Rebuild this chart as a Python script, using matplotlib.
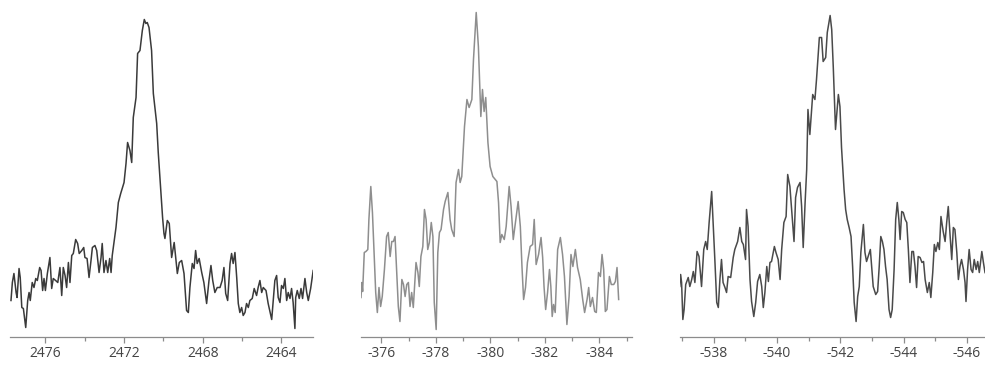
import matplotlib.pyplot as plt
from matplotlib.ticker import FixedLocator

plt.rcParams['axes.unicode_minus'] = False

# three spectra, intensity in arbitrary units (baseline of axis = 0)
x1 = [2477.75, 2477.68, 2477.60, 2477.49, 2477.44, 2477.34, 2477.28, 2477.20, 2477.12, 2477.00,
      2476.90, 2476.83, 2476.77, 2476.67, 2476.58, 2476.49, 2476.41, 2476.29, 2476.22, 2476.14,
      2476.07, 2476.00, 2475.90, 2475.77, 2475.68, 2475.60, 2475.48, 2475.37, 2475.26, 2475.17,
      2475.09, 2475.00, 2474.92, 2474.83, 2474.75, 2474.66, 2474.58, 2474.46, 2474.36, 2474.28,
      2474.15, 2474.05, 2473.99, 2473.88, 2473.78, 2473.68, 2473.61, 2473.48, 2473.39, 2473.27,
      2473.17, 2473.11, 2473.02, 2472.92, 2472.83, 2472.73, 2472.66, 2472.60, 2472.50, 2472.41,
      2472.29, 2472.17, 2472.00, 2471.90, 2471.82, 2471.70, 2471.61, 2471.53, 2471.39, 2471.31,
      2471.19, 2471.07, 2470.97, 2470.89, 2470.82, 2470.73, 2470.60, 2470.51, 2470.34, 2470.26,
      2470.14, 2470.04, 2469.97, 2469.92, 2469.80, 2469.70, 2469.58, 2469.45, 2469.29, 2469.19,
      2469.07, 2468.95, 2468.82, 2468.73, 2468.65, 2468.53, 2468.44, 2468.36, 2468.28, 2468.18,
      2468.05, 2467.94, 2467.80, 2467.68, 2467.58, 2467.49, 2467.38, 2467.26, 2467.12, 2467.01,
      2466.92, 2466.83, 2466.73, 2466.61, 2466.53, 2466.45, 2466.36, 2466.27, 2466.19, 2466.11,
      2466.02, 2465.94, 2465.85, 2465.77, 2465.68, 2465.60, 2465.48, 2465.38, 2465.26, 2465.18,
      2465.09, 2465.00, 2464.92, 2464.78, 2464.67, 2464.49, 2464.41, 2464.33, 2464.24, 2464.16,
      2464.07, 2463.99, 2463.90, 2463.82, 2463.73, 2463.65, 2463.56, 2463.48, 2463.40, 2463.31,
      2463.27, 2463.19, 2463.09, 2463.00, 2462.92, 2462.80, 2462.71, 2462.63, 2462.51, 2462.38]
y1 = [36, 54, 63, 44, 39, 68, 59, 29, 28, 9,
      36, 44, 36, 54, 49, 58, 56, 69, 66, 46,
      58, 46, 63, 79, 48, 58, 56, 54, 69, 41,
      69, 61, 49, 74, 54, 81, 83, 97, 93, 83,
      86, 89, 79, 78, 59, 76, 89, 91, 86, 64,
      79, 93, 64, 76, 64, 78, 64, 81, 96, 109,
      134, 143, 154, 173, 194, 186, 174, 219, 239, 283,
      286, 306, 317, 313, 314, 309, 286, 243, 213, 184,
      149, 119, 103, 98, 116, 113, 79, 94, 63, 74,
      76, 63, 26, 24, 49, 73, 68, 86, 73, 78,
      64, 54, 33, 56, 71, 56, 44, 49, 49, 56,
      69, 43, 36, 73, 83, 73, 84, 59, 33, 24,
      29, 21, 24, 33, 29, 36, 38, 48, 41, 49,
      56, 44, 49, 46, 33, 17, 36, 56, 61, 39,
      34, 51, 48, 58, 36, 44, 38, 48, 34, 8,
      39, 46, 38, 48, 38, 58, 44, 36, 48, 66]

x2 = [-375.25, -375.28, -375.31, -375.37, -375.43, -375.50, -375.54, -375.61, -375.67, -375.73,
      -375.79, -375.85, -375.91, -375.97, -376.03, -376.11, -376.19, -376.25, -376.32, -376.38,
      -376.44, -376.50, -376.56, -376.62, -376.68, -376.75, -376.81, -376.87, -376.93, -376.99,
      -377.05, -377.11, -377.17, -377.24, -377.27, -377.34, -377.39, -377.45, -377.52, -377.58,
      -377.64, -377.70, -377.76, -377.83, -377.89, -377.94, -378.01, -378.07, -378.13, -378.19,
      -378.28, -378.34, -378.44, -378.52, -378.58, -378.67, -378.74, -378.83, -378.89, -378.95,
      -379.05, -379.14, -379.22, -379.32, -379.38, -379.48, -379.56, -379.65, -379.71, -379.77,
      -379.83, -379.91, -379.99, -380.09, -380.24, -380.30, -380.36, -380.42, -380.51, -380.58,
      -380.69, -380.76, -380.84, -380.92, -381.02, -381.10, -381.16, -381.22, -381.29, -381.36,
      -381.46, -381.55, -381.61, -381.68, -381.77, -381.86, -381.92, -381.97, -382.03, -382.10,
      -382.17, -382.22, -382.27, -382.32, -382.38, -382.47, -382.57, -382.65, -382.72, -382.81,
      -382.89, -382.96, -383.03, -383.12, -383.20, -383.30, -383.39, -383.46, -383.55, -383.61,
      -383.67, -383.75, -383.83, -383.89, -383.97, -384.04, -384.10, -384.16, -384.22, -384.28,
      -384.37, -384.44, -384.53, -384.59, -384.65, -384.71]
y2 = [39, 54, 45, 84, 85, 87, 117, 150, 124, 84,
      44, 24, 49, 30, 40, 67, 100, 104, 80, 95,
      95, 100, 64, 30, 15, 57, 52, 40, 52, 54,
      30, 44, 29, 60, 74, 64, 50, 80, 90, 127,
      117, 87, 94, 114, 100, 34, 7, 84, 104, 107,
      127, 135, 144, 117, 107, 100, 154, 167, 154, 160,
      210, 237, 229, 237, 277, 324, 290, 220, 247, 225,
      239, 194, 170, 160, 155, 134, 94, 102, 97, 110,
      150, 130, 97, 114, 135, 110, 70, 37, 49, 74,
      90, 92, 117, 72, 82, 99, 79, 50, 27, 44,
      67, 50, 20, 32, 24, 87, 99, 82, 60, 12,
      40, 82, 70, 87, 69, 57, 37, 24, 37, 49,
      30, 39, 25, 24, 64, 60, 82, 67, 25, 27,
      60, 52, 52, 55, 69, 37]

x3 = [-536.93, -536.96, -536.99, -537.03, -537.07, -537.12, -537.20, -537.25, -537.31, -537.36,
      -537.41, -537.48, -537.54, -537.62, -537.69, -537.75, -537.80, -537.86, -537.94, -537.99,
      -538.04, -538.10, -538.15, -538.20, -538.25, -538.30, -538.36, -538.41, -538.46, -538.54,
      -538.62, -538.67, -538.76, -538.83, -538.89, -538.94, -539.01, -539.04, -539.09, -539.15,
      -539.20, -539.27, -539.33, -539.39, -539.46, -539.52, -539.57, -539.62, -539.68, -539.73,
      -539.78, -539.83, -539.92, -539.97, -540.04, -540.10, -540.15, -540.22, -540.29, -540.34,
      -540.41, -540.48, -540.54, -540.59, -540.65, -540.73, -540.78, -540.83, -540.89, -540.94,
      -540.98, -541.04, -541.13, -541.20, -541.25, -541.34, -541.41, -541.46, -541.54, -541.59,
      -541.68, -541.73, -541.78, -541.85, -541.94, -541.99, -542.04, -542.12, -542.17, -542.22,
      -542.28, -542.34, -542.39, -542.44, -542.50, -542.55, -542.60, -542.65, -542.73, -542.78,
      -542.83, -542.88, -542.95, -542.99, -543.04, -543.12, -543.18, -543.23, -543.28, -543.33,
      -543.38, -543.43, -543.48, -543.54, -543.59, -543.64, -543.70, -543.75, -543.80, -543.85,
      -543.89, -543.94, -543.99, -544.05, -544.10, -544.15, -544.20, -544.26, -544.31, -544.36,
      -544.41, -544.46, -544.52, -544.58, -544.63, -544.68, -544.75, -544.81, -544.86, -544.92,
      -544.97, -545.02, -545.08, -545.13, -545.18, -545.25, -545.31, -545.36, -545.41, -545.47,
      -545.52, -545.57, -545.62, -545.68, -545.73, -545.78, -545.83, -545.89, -545.94, -545.97,
      -546.02, -546.07, -546.13, -546.18, -546.23, -546.29, -546.34, -546.39, -546.47, -546.52,
      -546.57, -546.65]
y3 = [50, 62, 54, 17, 27, 52, 59, 50, 57, 65,
      54, 85, 80, 50, 87, 95, 87, 114, 145, 112,
      77, 34, 29, 57, 77, 54, 49, 44, 60, 59,
      79, 87, 95, 109, 95, 92, 77, 127, 110, 57,
      35, 20, 34, 55, 62, 50, 29, 44, 70, 55,
      74, 75, 90, 84, 77, 57, 87, 114, 120, 162,
      150, 120, 95, 139, 149, 154, 130, 89, 134, 167,
      227, 202, 242, 237, 257, 299, 299, 275, 279, 304,
      321, 307, 269, 207, 242, 230, 189, 147, 127, 117,
      109, 100, 70, 34, 15, 40, 50, 84, 112, 84,
      75, 80, 87, 70, 50, 42, 45, 70, 100, 95,
      87, 70, 57, 27, 19, 27, 67, 117, 134, 117,
      97, 125, 124, 117, 114, 87, 54, 85, 85, 70,
      49, 80, 79, 74, 75, 57, 44, 54, 39, 64,
      92, 85, 94, 87, 120, 105, 95, 114, 130, 100,
      77, 109, 107, 84, 57, 70, 77, 67, 54, 35,
      67, 87, 67, 64, 77, 67, 75, 64, 85, 74,
      64, 60]

major1 = [2476, 2472, 2468, 2464]
minor1 = [2474, 2470, 2466]
major2 = [-376, -378, -380, -382, -384]
minor2 = [-377, -379, -381, -383, -385]
major3 = [-538, -540, -542, -544, -546]
minor3 = [-537, -539, -541, -543, -545]

W, H = 985, 367
fig = plt.figure(figsize=(W / 100, H / 100), dpi=100)


def spectrum(left, right, x, y, xlim, major, minor, color):
    ax = fig.add_axes([left / W, 30.5 / H, (right - left) / W, 328.5 / H])
    ax.plot(x, y, color=color, lw=1.1)
    ax.set_xlim(*xlim)
    ax.set_ylim(0, 328.5)
    ax.set_yticks([])
    ax.xaxis.set_major_locator(FixedLocator(major))
    ax.xaxis.set_minor_locator(FixedLocator(minor))
    for s in ['left', 'right', 'top']:
        ax.spines[s].set_visible(False)
    ax.spines['bottom'].set_color('#8c8c8c')
    ax.spines['bottom'].set_linewidth(0.9)
    ax.tick_params(axis='x', which='major', length=4.5, width=0.9, color='#8c8c8c',
                   pad=2.5, labelsize=10, labelcolor='#444444')
    ax.tick_params(axis='x', which='minor', length=3, width=0.9, color='#8c8c8c')
    for lab in ax.get_xticklabels():
        lab.set_fontfamily('Open Sans')
    ax.patch.set_alpha(0)
    return ax


spectrum(10, 313, x1, y1, (2477.80, 2462.39), major1, minor1, '#3a3a3a')
spectrum(361, 632, x2, y2, (-375.25, -385.20), major2, minor2, '#8e8e8e')
spectrum(680, 985, x3, y3, (-536.94, -546.57), major3, minor3, '#4a4a4a')

fig.savefig('out.png', dpi=100)
